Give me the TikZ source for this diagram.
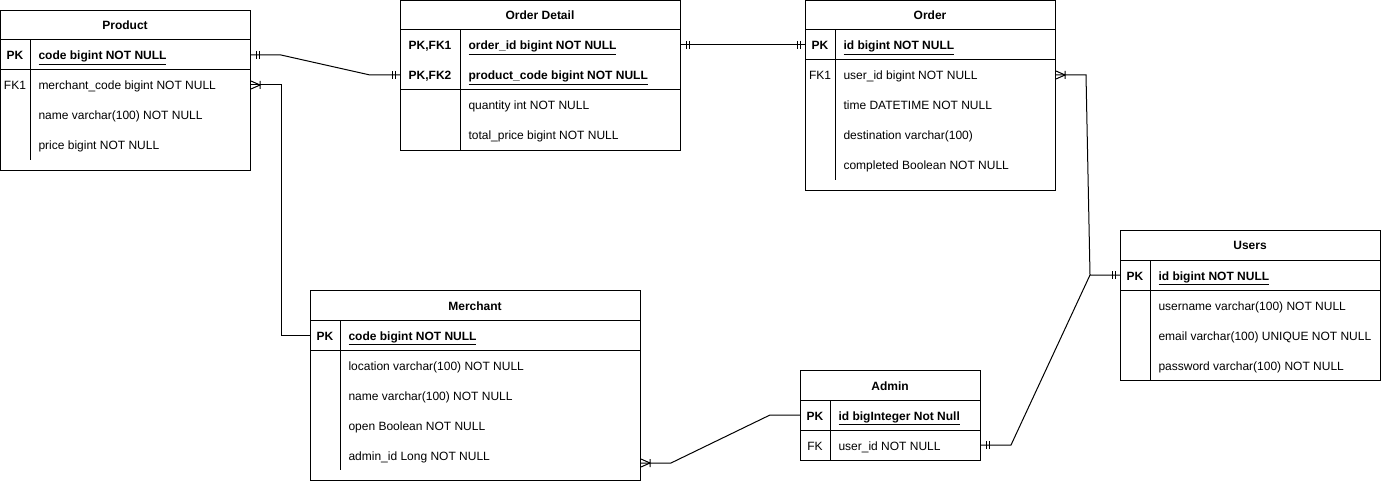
\documentclass[tikz,border=0pt]{standalone}
\usepackage{fontspec}
\setmainfont{Liberation Sans}
\usetikzlibrary{positioning}

\begin{document}
\begin{tikzpicture}[x=1bp, y=-1bp, line width=1bp, font=\fontsize{12bp}{14bp}\selectfont,
  every node/.style={inner sep=0pt, text height=11bp, text depth=1bp},
  tbl/.style={draw, anchor=north west, text height=, text depth=},
  ttl/.style={font=\fontsize{12bp}{14bp}\selectfont\bfseries},
  pk/.style={font=\fontsize{12bp}{14bp}\selectfont\bfseries},
  fld/.style={anchor=west},
  one/.pic={\draw (5,-4) -- (5,4) (8,-4) -- (8,4);},
  many/.pic={\draw (0,-4) -- (9,0) -- (0,4) (9,-4) -- (9,4);}]
  \useasboundingbox (0,0) rectangle (1381,481);

  % Product
  \node[tbl, minimum width=250bp, minimum height=160bp] (product) at (0,10) {};
  \node[ttl] (producttitle) at (125,25) {Product};
  \draw (0,40) -- (250,40);
  \draw (0,70) -- (250,70);
  \draw (30,40) -- (30,160);
  \node[pk] (productpk) at (15,55) {PK};
  \node[pk, fld] (productcode) at (38,55) {\underline{code bigint NOT NULL}};
  \node (productfk) at (15,85) {FK1};
  \node[fld] (productmerchant) at (38,85) {merchant\_code bigint NOT NULL};
  \node[fld] (productname) at (38,115) {name varchar(100) NOT NULL};
  \node[fld] (productprice) at (38,145) {price bigint NOT NULL};

  % Order Detail
  \node[tbl, minimum width=280bp, minimum height=150bp] (orderdetail) at (400,0) {};
  \node[ttl] (odtitle) at (540,15) {Order Detail};
  \draw (400,30) -- (680,30);
  \draw (400,90) -- (680,90);
  \draw (460,30) -- (460,150);
  \node[pk] (odpk1) at (430,45) {PK,FK1};
  \node[pk, fld] (odorder) at (468,45) {\underline{order\_id bigint NOT NULL}};
  \node[pk] (odpk2) at (430,75) {PK,FK2};
  \node[pk, fld] (odproduct) at (468,75) {\underline{product\_code bigint NOT NULL}};
  \node[fld] (odquantity) at (468,105) {quantity int NOT NULL};
  \node[fld] (odtotal) at (468,135) {total\_price bigint NOT NULL};

  % Order
  \node[tbl, minimum width=250bp, minimum height=190bp] (order) at (805,0) {};
  \node[ttl] (ordertitle) at (930,15) {Order};
  \draw (805,30) -- (1055,30);
  \draw (805,60) -- (1055,60);
  \draw (835,30) -- (835,180);
  \node[pk] (orderpk) at (820,45) {PK};
  \node[pk, fld] (orderid) at (843,45) {\underline{id bigint NOT NULL}};
  \node (orderfk) at (820,75) {FK1};
  \node[fld] (orderuser) at (843,75) {user\_id bigint NOT NULL};
  \node[fld] (ordertime) at (843,105) {time DATETIME NOT NULL};
  \node[fld] (orderdest) at (843,135) {destination varchar(100)};
  \node[fld] (orderdone) at (843,165) {completed Boolean NOT NULL};

  % Users
  \node[tbl, minimum width=260bp, minimum height=150bp] (users) at (1120,230) {};
  \node[ttl] (userstitle) at (1250,245) {Users};
  \draw (1120,260) -- (1380,260);
  \draw (1120,290) -- (1380,290);
  \draw (1150,260) -- (1150,380);
  \node[pk] (userspk) at (1135,275) {PK};
  \node[pk, fld] (usersid) at (1158,275) {\underline{id bigint NOT NULL}};
  \node[fld] (usersname) at (1158,305) {username varchar(100) NOT NULL};
  \node[fld] (usersmail) at (1158,335) {email varchar(100) UNIQUE NOT NULL};
  \node[fld] (userspass) at (1158,365) {password varchar(100) NOT NULL};

  % Merchant
  \node[tbl, minimum width=330bp, minimum height=190bp] (merchant) at (310,290) {};
  \node[ttl] (merchanttitle) at (475,305) {Merchant};
  \draw (310,320) -- (640,320);
  \draw (310,350) -- (640,350);
  \draw (340,320) -- (340,470);
  \node[pk] (merchantpk) at (325,335) {PK};
  \node[pk, fld] (merchantcode) at (348,335) {\underline{code bigint NOT NULL}};
  \node[fld] (merchantloc) at (348,365) {location varchar(100) NOT NULL};
  \node[fld] (merchantname) at (348,395) {name varchar(100) NOT NULL};
  \node[fld] (merchantopen) at (348,425) {open Boolean NOT NULL};
  \node[fld] (merchantadmin) at (348,455) {admin\_id Long NOT NULL};

  % Admin
  \node[tbl, minimum width=180bp, minimum height=90bp] (admin) at (800,370) {};
  \node[ttl] (admintitle) at (890,385) {Admin};
  \draw (800,400) -- (980,400);
  \draw (800,430) -- (980,430);
  \draw (830,400) -- (830,460);
  \node[pk] (adminpk) at (815,415) {PK};
  \node[pk, fld] (adminid) at (838,415) {\underline{id bigInteger Not Null}};
  \node (adminfk) at (815,445) {FK};
  \node[fld] (adminuser) at (838,445) {user\_id NOT NULL};

  % Relations
  \draw (product.east |- productcode) -- ++(30,0)
    -- ([xshift=-30bp]orderdetail.west |- odproduct) -- (orderdetail.west |- odproduct);
  \pic at (product.east |- productcode) {one};
  \pic[xscale=-1] at (orderdetail.west |- odproduct) {one};

  \draw (orderdetail.east |- odorder) -- (order.west |- orderid);
  \pic at (orderdetail.east |- odorder) {one};
  \pic[xscale=-1] at (order.west |- orderid) {one};

  \draw (product.east |- productmerchant) -- ++(30,0) |- (merchant.west |- merchantcode);
  \pic at (product.east |- productmerchant) {many};

  \draw (order.east |- orderuser) -- ++(30,0)
    -- ([xshift=-30bp]users.west |- usersid) -- (users.west |- usersid);
  \pic at (order.east |- orderuser) {many};
  \pic[xscale=-1] at (users.west |- usersid) {one};

  \draw (admin.east |- adminuser) -- ++(30,0) -- ([xshift=-30bp]users.west |- usersid);
  \pic at (admin.east |- adminuser) {one};

  \draw ([yshift=-8bp]merchant.east |- merchantadmin) -- ++(30,0)
    -- ([xshift=-30bp]admin.west |- adminid) -- (admin.west |- adminid);
  \pic at ([yshift=-8bp]merchant.east |- merchantadmin) {many};
\end{tikzpicture}
\end{document}
